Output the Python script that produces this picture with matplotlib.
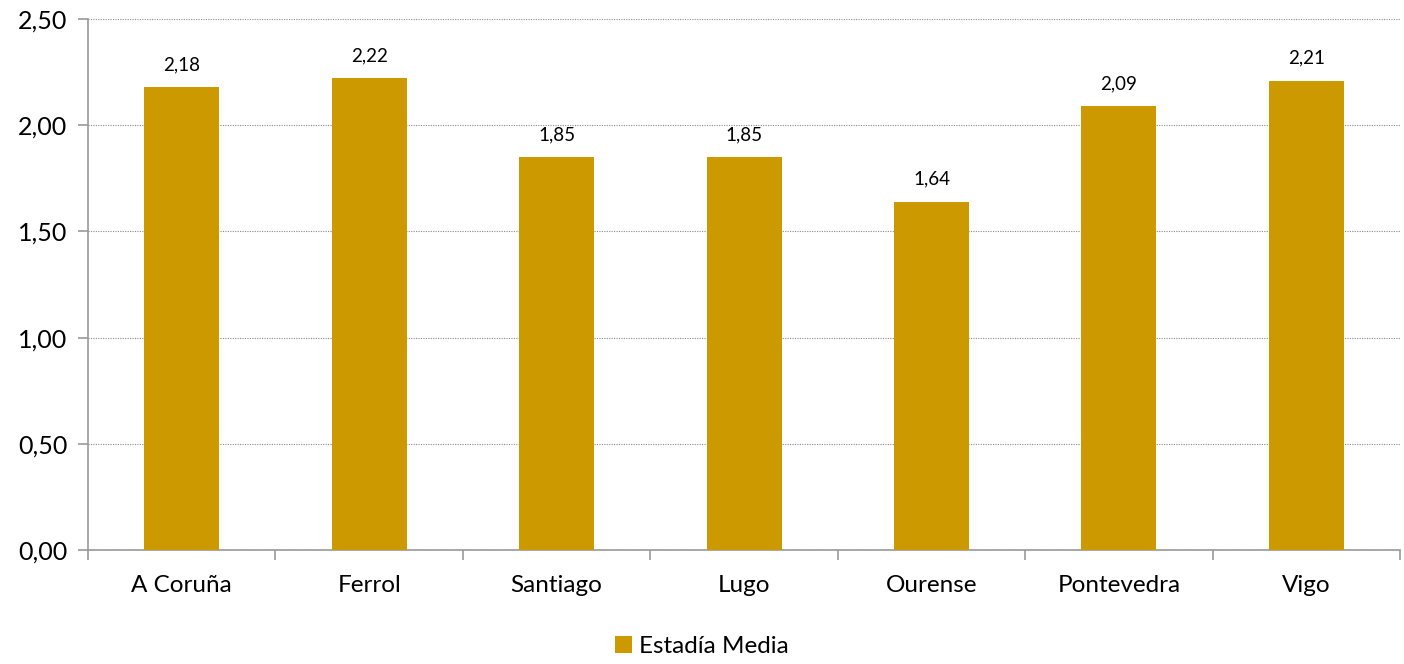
import numpy as np
import matplotlib
matplotlib.use('Agg')
import matplotlib.pyplot as plt
from matplotlib.ticker import FuncFormatter

plt.rcParams['font.family'] = ['Lato', 'DejaVu Sans']

# data
cities = ['A Coruña', 'Ferrol', 'Santiago', 'Lugo', 'Ourense', 'Pontevedra', 'Vigo']
estadia = [2.18, 2.22, 1.85, 1.85, 1.64, 2.09, 2.21]
series_name = 'Estadía Media'

bar_color = '#CC9900'
axis_color = '#999999'

fig = plt.figure(figsize=(14.04, 6.64), dpi=100)
ax = fig.add_axes([0.0627, 0.1717, 0.9345, 0.7997])

x = np.arange(len(cities))
bars = ax.bar(x, estadia, width=0.4, color=bar_color, label=series_name, zorder=3)

# value labels
for xi, v in zip(x, estadia):
    ax.annotate('{:.2f}'.format(v).replace('.', ','), (xi, v), xytext=(0, 10),
                textcoords='offset points', ha='center', va='bottom', fontsize=13.5)

ax.set_xlim(-0.5, len(cities) - 0.5)
ax.set_ylim(0, 2.5)
ax.set_yticks(np.arange(0, 2.51, 0.5))
ax.yaxis.set_major_formatter(FuncFormatter(lambda v, p: '{:.2f}'.format(v).replace('.', ',')))

# category labels centred, ticks at boundaries
ax.set_xticks(np.arange(-0.5, len(cities) + 0.5, 1))
ax.set_xticklabels([])
ax.set_xticks(x, minor=True)
ax.set_xticklabels(cities, minor=True, fontsize=17.5)
ax.tick_params(axis='x', which='minor', length=0, pad=18)
ax.tick_params(axis='x', which='major', length=7, color=axis_color, width=1.2)
ax.tick_params(axis='y', length=7, color=axis_color, width=1.2, labelsize=18, pad=8)

ax.grid(axis='y', linestyle=(0, (1, 1.2)), color='#888888', linewidth=0.8, zorder=0)

for side in ['top', 'right']:
    ax.spines[side].set_visible(False)
for side in ['left', 'bottom']:
    ax.spines[side].set_color(axis_color)
    ax.spines[side].set_linewidth(1.2)

fig.legend(loc='lower center', bbox_to_anchor=(0.5, -0.022), frameon=False,
           fontsize=17.5, handlelength=0.7, handleheight=0.7, handletextpad=0.3)

fig.savefig('out.png', dpi=100)
